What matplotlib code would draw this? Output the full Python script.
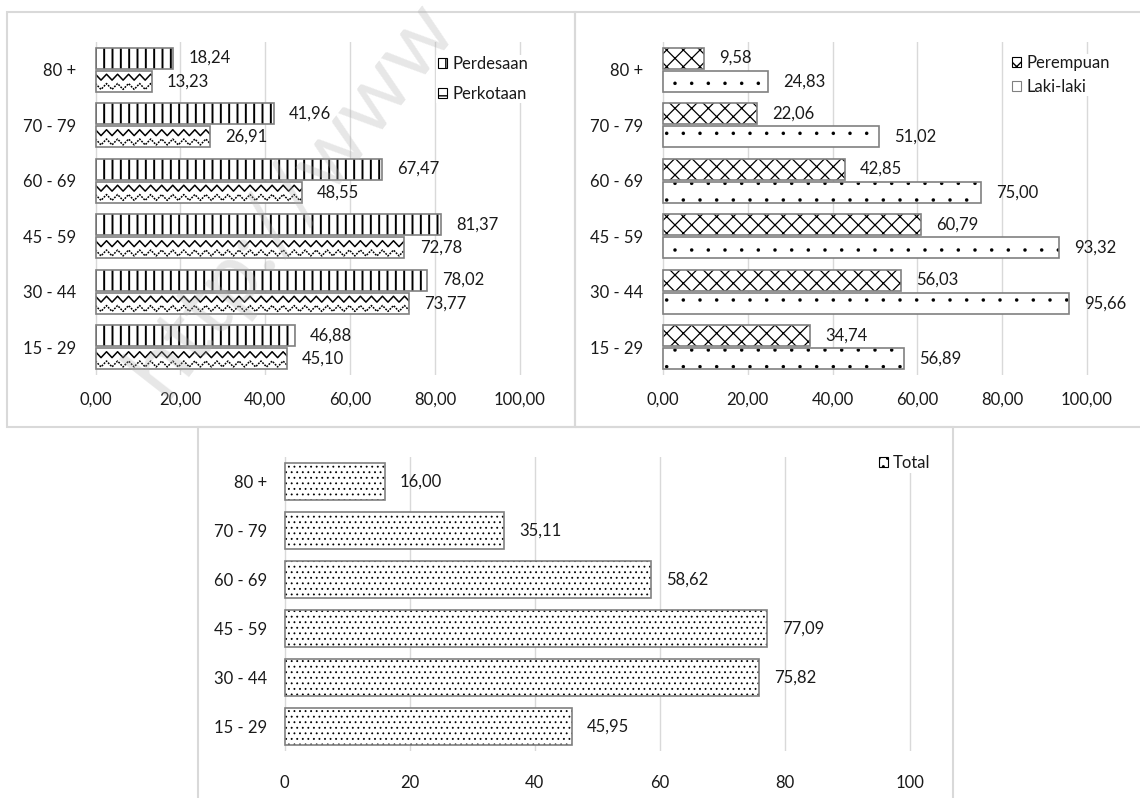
import numpy as np
import matplotlib.pyplot as plt
from matplotlib.patches import Rectangle, Patch

plt.rcParams['font.family'] = ['Lato', 'DejaVu Sans']
plt.rcParams['hatch.linewidth'] = 1.0

# data per kelompok umur (urut dari bawah ke atas)
kelompok = ['15 - 29', '30 - 44', '45 - 59', '60 - 69', '70 - 79', '80 +']
perdesaan = [46.88, 78.02, 81.37, 67.47, 41.96, 18.24]
perkotaan = [45.10, 73.77, 72.78, 48.55, 26.91, 13.23]
perempuan = [34.74, 56.03, 60.79, 42.85, 22.06, 9.58]
laki_laki = [56.89, 95.66, 93.32, 75.00, 51.02, 24.83]
total = [45.95, 75.82, 77.09, 58.62, 35.11, 16.00]
skala = [0, 20, 40, 60, 80, 100]

W, H = 1140, 798
fig = plt.figure(figsize=(W / 100, H / 100), dpi=100)
TEKS = '#1a1a1a'
TEPI = '#808080'
GRID = '#d9d9d9'


def koma(v, d=2):
    return f"{v:.{d}f}".replace('.', ',')


def buat_axes(x0, x100, top, bottom):
    # x0 / x100 = posisi piksel nilai 0 dan 100
    unit = (x100 - x0) / 100.0
    left = x0 - unit
    width = x100 - x0 + 2 * unit
    ax = fig.add_axes([left / W, 1 - bottom / H, width / W, (bottom - top) / H])
    ax.set_facecolor('none')
    return ax


def rapikan(ax, desimal, pad_x, pad_y):
    ax.set_xlim(-1, 101)
    ax.set_ylim(-0.5, 5.5)
    ax.set_xticks(skala)
    ax.set_xticklabels([koma(v, desimal) for v in skala])
    ax.set_yticks(np.arange(len(kelompok)))
    ax.set_yticklabels(kelompok)
    ax.tick_params(axis='x', length=0, labelsize=12, colors=TEKS, pad=pad_x)
    ax.tick_params(axis='y', length=0, labelsize=12, colors=TEKS, pad=pad_y)
    for s in ax.spines.values():
        s.set_visible(False)
    ax.grid(axis='x', color=GRID, linewidth=1.0)
    ax.grid(axis='y', visible=False)
    ax.set_axisbelow(True)


def batang(ax, y, nilai, tinggi, pola=None, lw_pola=1.0):
    with plt.rc_context({'hatch.linewidth': lw_pola}):
        isi = ax.barh(y, nilai, height=tinggi, color='white', edgecolor='black',
                      hatch=pola, linewidth=0, zorder=2)
    for b in isi:
        if hasattr(b, 'set_hatch_linewidth'):
            b.set_hatch_linewidth(lw_pola)
    ax.barh(y, nilai, height=tinggi, fill=False, edgecolor=TEPI, linewidth=1.2, zorder=4)
    for yy, v in zip(y, nilai):
        ax.annotate(koma(v), (v, yy), xytext=(11, 0), textcoords='offset points',
                    ha='left', va='center', fontsize=12, color=TEKS)
    return isi


def gelombang(ax, bars, periode=2.6):
    # motif gelombang, dipotong mengikuti batangnya
    for b in bars:
        x0, y0 = b.get_x(), b.get_y()
        w, h = b.get_width(), b.get_height()
        xs = np.arange(x0, x0 + w + periode, periode / 2)
        naik = np.where(np.arange(len(xs)) % 2 == 0, 1, -1)
        for frac, gaya in [(0.70, '-'), (0.26, (0, (1.2, 0.8)))]:
            ys = y0 + h * frac + 0.14 * h * naik
            ln, = ax.plot(xs, ys, color='black', lw=1.1, ls=gaya, zorder=3)
            ln.set_clip_path(b)


def legenda(handles, labels, x, y, jarak):
    fig.legend(handles, labels, loc='center left', bbox_to_anchor=(x / W, 1 - y / H),
               bbox_transform=fig.transFigure, fontsize=12, frameon=True,
               facecolor='white', edgecolor='none', framealpha=1, fancybox=False,
               borderpad=0.1, handlelength=0.55, handleheight=0.55,
               handletextpad=0.3, labelspacing=jarak, labelcolor=TEKS)


ypos = np.arange(len(kelompok))

# bingkai tiap panel
for (x0, y0, x1, y1) in [(7, 12, 575, 427), (575, 12, 1150, 427), (198, 427, 953, 810)]:
    fig.add_artist(Rectangle((x0 / W, 1 - y1 / H), (x1 - x0) / W, (y1 - y0) / H,
                             transform=fig.transFigure, fill=False,
                             edgecolor=GRID, linewidth=1.5, zorder=0))

# panel kiri atas: perdesaan / perkotaan
ax1 = buat_axes(95.5, 520, 42, 375)
rapikan(ax1, 2, 12, 11)
batang(ax1, ypos + 0.21, perdesaan, 0.38, '||', 1.4)
kota = batang(ax1, ypos - 0.21, perkotaan, 0.38, None)
gelombang(ax1, kota)
legenda([Patch(facecolor='white', edgecolor='black', hatch='||', lw=0.8),
         Patch(facecolor='white', edgecolor='black', hatch='--', lw=0.8)],
        ['Perdesaan', 'Perkotaan'], 428, 79, 0.8)

# panel kanan atas: perempuan / laki-laki
ax2 = buat_axes(663, 1087, 42, 375)
rapikan(ax2, 2, 12, 11)
batang(ax2, ypos + 0.21, perempuan, 0.38, 'xx', 0.9)
batang(ax2, ypos - 0.21, laki_laki, 0.38, '.', 0.1)
legenda([Patch(facecolor='white', edgecolor='black', hatch='xx', lw=0.8),
         Patch(facecolor='white', edgecolor=TEPI, lw=0.8)],
        ['Perempuan', 'Laki-laki'], 1002, 75, 0.45)

# panel bawah: total
ax3 = buat_axes(284.5, 910, 457, 751)
rapikan(ax3, 0, 17, 8)
batang(ax3, ypos, total, 0.75, '...', 0.6)
legenda([Patch(facecolor='white', edgecolor='black', hatch='..', lw=0.8)],
        ['Total'], 869, 463, 0.5)

# tanda air samar
fig.text(165 / W, 1 - 400 / H, 'http://www', fontsize=64, rotation=52,
         rotation_mode='anchor', ha='left', va='baseline', color='#b0b0b0',
         alpha=0.3, zorder=20)

fig.savefig('out.png', dpi=100)
